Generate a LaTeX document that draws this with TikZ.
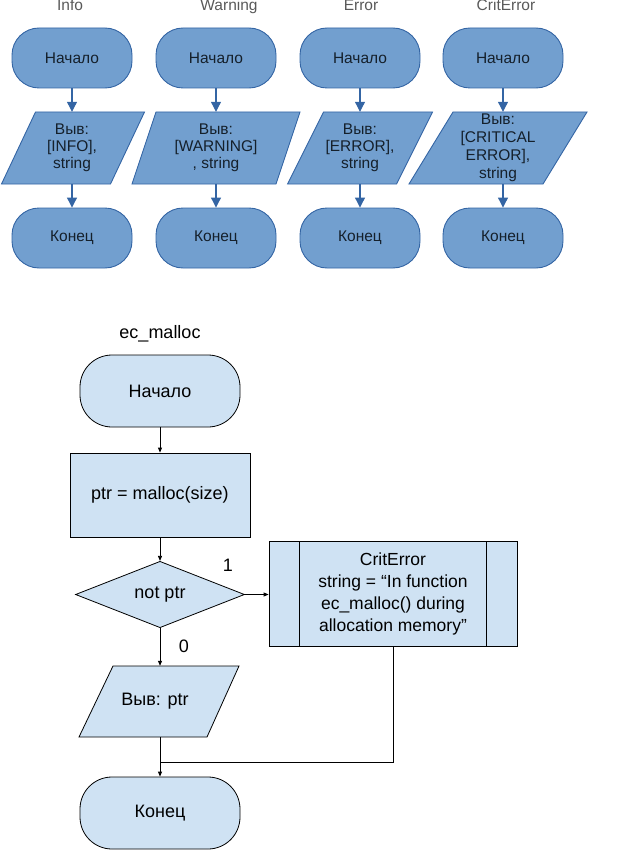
\documentclass[tikz,border=0pt]{standalone}
\usepackage{fontspec}
\setmainfont{Liberation Sans}
\usetikzlibrary{shapes.geometric,arrows.meta}
\definecolor{tfill}{HTML}{729FCF}
\definecolor{tline}{HTML}{3465A4}
\definecolor{ttext}{HTML}{15202B}
\definecolor{ttitle}{HTML}{595959}
\definecolor{bfill}{HTML}{CFE2F3}
\tikzset{
  tterm/.style={draw=tline, fill=tfill, line width=0.9pt, rounded corners=27pt,
    minimum width=120pt, minimum height=60pt, inner sep=0pt,
    font=\fontsize{15.5}{17}\selectfont, text=ttext},
  tpara/.style={draw=tline, fill=tfill, line width=0.9pt},
  ttxt/.style={inner sep=0pt, minimum height=72pt, align=center,
    font=\fontsize{15.5}{17}\selectfont, text=ttext},
  ttitlestyle/.style={anchor=base, inner sep=0pt, font=\fontsize{15.5}{17}\selectfont, text=ttitle},
  tarrow/.style={draw=tline, line width=1.1pt, -{Triangle[length=10pt,width=10pt]}},
  bterm/.style={draw=black, fill=bfill, line width=0.8pt, rounded corners=32pt,
    minimum width=160pt, minimum height=72pt, inner sep=0pt,
    font=\fontsize{18}{22}\selectfont},
  bproc/.style={draw=black, fill=bfill, line width=0.8pt,
    minimum width=180pt, minimum height=84pt, inner sep=0pt,
    font=\fontsize{18}{22}\selectfont},
  bdecision/.style={draw=black, fill=bfill, line width=0.8pt, shape=diamond,
    minimum width=169pt, minimum height=65pt, inner sep=0pt,
    font=\fontsize{18}{22}\selectfont},
  bsubr/.style={draw=black, fill=bfill, line width=0.8pt,
    minimum width=248pt, minimum height=105pt, inner sep=0pt, align=center,
    font=\fontsize{17.5}{22}\selectfont},
  bpara/.style={draw=black, fill=bfill, line width=0.8pt},
  btxt/.style={inner sep=0pt, minimum height=71pt, font=\fontsize{18}{22}\selectfont},
  blabel/.style={inner sep=0pt, font=\fontsize{18}{22}\selectfont},
  bline/.style={draw=black, line width=0.8pt},
  barrow/.style={draw=black, line width=0.8pt, -{Triangle[length=5pt,width=4pt]}},
}
\begin{document}
\begin{tikzpicture}[x=1pt,y=-1pt]
\useasboundingbox (0,0) rectangle (636,856);
% ---------- top: titles ----------
\node[ttitlestyle] (t1) at (70,11) {Info};
\node[ttitlestyle] (t2) at (229,11) {Warning};
\node[ttitlestyle] (t3) at (361,11) {Error};
\node[ttitlestyle] (t4) at (506,11) {CritError};
% ---------- top: start nodes ----------
\node[tterm] (s1) at (72,58) {Начало};
\node[tterm] (s2) at (216,58) {Начало};
\node[tterm] (s3) at (360,58) {Начало};
\node[tterm] (s4) at (503,58) {Начало};
% ---------- top: parallelograms ----------
\draw[tpara] (35.5,112) -- (144.5,112) -- (110.5,184) -- (1.5,184) -- cycle;
\draw[tpara] (156,112) -- (300,112) -- (276,184) -- (132,184) -- cycle;
\draw[tpara] (323.5,112) -- (432.5,112) -- (396.5,184) -- (287.5,184) -- cycle;
\draw[tpara] (453,112) -- (587,112) -- (543,184) -- (409,184) -- cycle;
\node[ttxt] (p1) at (72,148) {Выв:\\{[}INFO{]},\\string};
\node[ttxt] (p2) at (216,148) {Выв:\\{[}WARNING{]}\\, string};
\node[ttxt] (p3) at (360,148) {Выв:\\{[}ERROR{]},\\string};
\node[ttxt,font=\fontsize{15.5}{18}\selectfont] (p4) at (498,148) {Выв:\\{[}CRITICAL\\ERROR{]},\\string};
% ---------- top: end nodes ----------
\node[tterm] (e1) at (72,238) {Конец};
\node[tterm] (e2) at (216,238) {Конец};
\node[tterm] (e3) at (360,238) {Конец};
\node[tterm] (e4) at (503,238) {Конец};
% ---------- top: arrows ----------
\draw[tarrow] (s1.south) -- (s1.south |- p1.north);
\draw[tarrow] (s2.south) -- (s2.south |- p2.north);
\draw[tarrow] (s3.south) -- (s3.south |- p3.north);
\draw[tarrow] (s4.south) -- (s4.south |- p4.north);
\draw[tarrow] (e1.north |- p1.south) -- (e1.north);
\draw[tarrow] (e2.north |- p2.south) -- (e2.north);
\draw[tarrow] (e3.north |- p3.south) -- (e3.north);
\draw[tarrow] (e4.north |- p4.south) -- (e4.north);
% ---------- bottom: ec_malloc ----------
\node[anchor=base, inner sep=0pt, font=\fontsize{18}{22}\selectfont] (title) at (160,338) {ec\_malloc};
\node[bterm] (bstart) at (160,391) {Начало};
\node[bproc] (bproc) at (160,495) {ptr = malloc(size)};
\node[bdecision] (bdec) at (160,594.5) {not ptr};
\node[bsubr] (bsub) at (393,594) {CritError\\string = “In function\\ec\_malloc() during\\allocation memory”};
\draw[bline] ([xshift=31pt]bsub.north west) -- ([xshift=31pt]bsub.south west);
\draw[bline] ([xshift=-31pt]bsub.north east) -- ([xshift=-31pt]bsub.south east);
\draw[bpara] (113,666) -- (239,666) -- (207,737) -- (79,737) -- cycle;
\node[btxt] (bout) at (155,701.5) {Выв: ptr};
\node[bterm] (bend) at (160,813) {Конец};
\coordinate (join) at (160,762);
\node[blabel] (l1) at (228,565) {1};
\node[blabel] (l0) at (184,646) {0};
% ---------- bottom: connectors ----------
\draw[barrow] (bstart) -- (bproc);
\draw[barrow] (bproc) -- (bdec);
\draw[barrow] (bdec.east) -- (bsub.west |- bdec.east);
\draw[barrow] (bdec.south) -- (bdec.south |- bout.north);
\draw[bline] (bsub.south) |- (join);
\draw[barrow] (bdec.south |- bout.south) -- (bend.north);
\end{tikzpicture}
\end{document}
